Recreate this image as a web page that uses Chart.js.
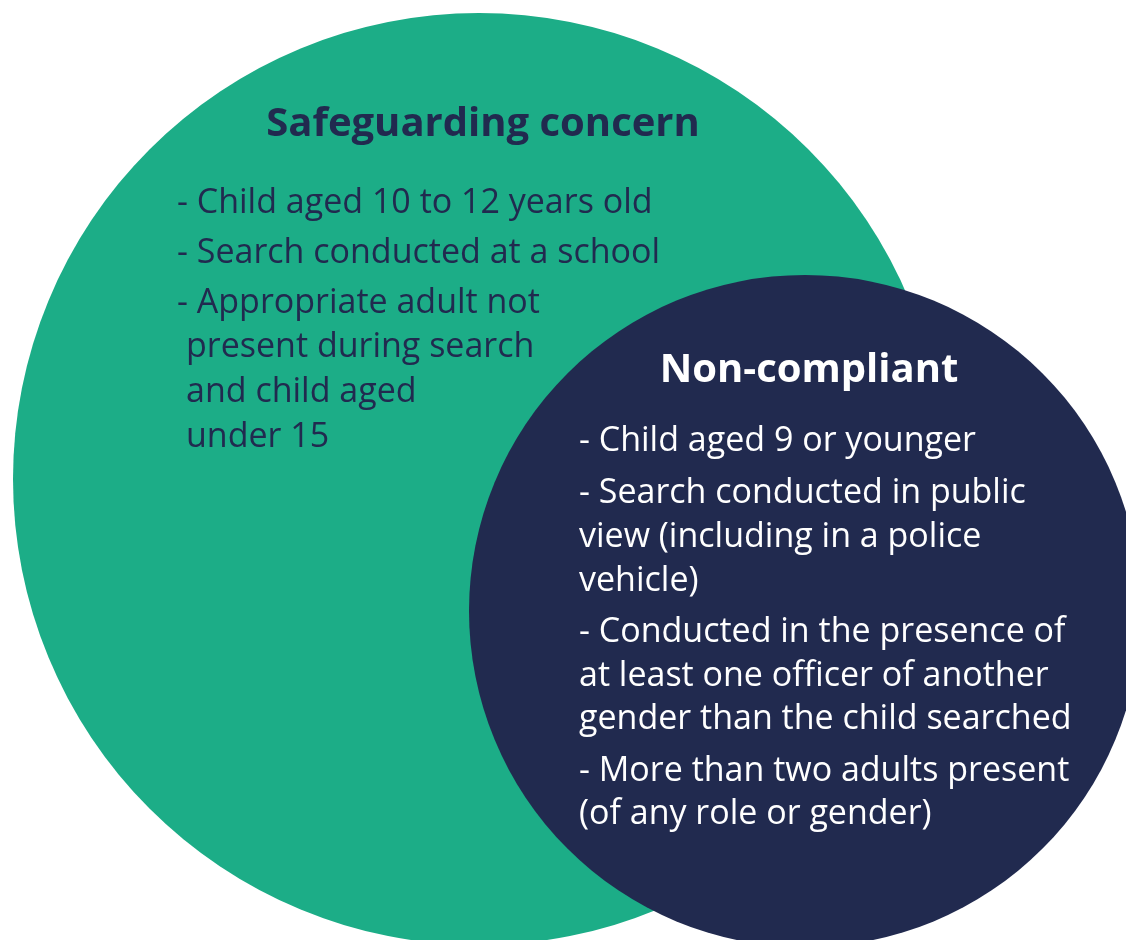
<!DOCTYPE html>
<html>
<head>
<meta charset="utf-8">
<script src="https://cdn.jsdelivr.net/npm/chart.js@4.4.1/dist/chart.umd.min.js"></script>
<style>
  html, body { margin: 0; padding: 0; background: #ffffff; }
  #wrap { width: 1126px; height: 940px; position: relative; }
</style>
</head>
<body>
<div id="wrap"><canvas id="venn"></canvas></div>
<script>
// circles of the diagram (units = plot units, 0..1126 x 0..940)
var groups = ['Safeguarding concern', 'Non-compliant'];
var circleX = [479, 805];
var circleY = [479, 611];
var circleR = [466, 336];
var circleColors = ['#1cad87', '#212a4f'];
var textColors = ['#212a4f', '#ffffff'];

// text inside each circle
var safeguardingItems = [
  '- Child aged 10 to 12 years old',
  '- Search conducted at a school',
  '- Appropriate adult not',
  ' present during search',
  ' and child aged',
  ' under 15'
];
var nonCompliantItems = [
  '- Child aged 9 or younger',
  '- Search conducted in public',
  'view (including in a police',
  'vehicle)',
  '- Conducted in the presence of',
  'at least one officer of another',
  'gender than the child searched',
  '- More than two adults present',
  '(of any role or gender)'
];

var FONT = '"Open Sans", Lato, sans-serif';

// radius in pixels, worked out through the x scale
function radiusPx(ctx, i) {
  var sx = ctx.chart.scales.x;
  if (!sx) return 0;
  return sx.getPixelForValue(circleX[i] + circleR[i]) - sx.getPixelForValue(circleX[i]);
}

var vennText = {
  id: 'vennText',
  afterDatasetsDraw: function(chart) {
    var c = chart.ctx;
    var sx = chart.scales.x, sy = chart.scales.y;
    c.save();
    c.textBaseline = 'middle';

    // left circle
    var cx = sx.getPixelForValue(circleX[0]);
    var cy = sy.getPixelForValue(circleY[0]);
    c.fillStyle = textColors[0];
    c.textAlign = 'center';
    c.font = 'bold 40px ' + FONT;
    c.fillText(groups[0], cx + 4, cy - 354);
    c.textAlign = 'left';
    c.font = '34px ' + FONT;
    var ys = [203, 253, 303, 347, 392, 437];
    for (var i = 0; i < safeguardingItems.length; i++) {
      var t = safeguardingItems[i];
      var x = 177;
      if (t.charAt(0) === ' ') { t = t.slice(1); x = 186; }
      c.fillText(t, x, cy - 479 + ys[i]);
    }

    // right circle
    cx = sx.getPixelForValue(circleX[1]);
    cy = sy.getPixelForValue(circleY[1]);
    c.fillStyle = textColors[1];
    c.textAlign = 'center';
    c.font = 'bold 40px ' + FONT;
    c.fillText(groups[1], cx + 4, cy - 240);
    c.textAlign = 'left';
    c.font = '34px ' + FONT;
    var ys2 = [441, 493, 537, 581, 632, 676, 719, 771, 814];
    for (var j = 0; j < nonCompliantItems.length; j++) {
      c.fillText(nonCompliantItems[j], cx - 226, cy - 611 + ys2[j]);
    }
    c.restore();
  }
};

new Chart(document.getElementById('venn'), {
  type: 'scatter',
  data: {
    datasets: [
      {
        label: groups[1],
        order: 0,
        data: [{ x: circleX[1], y: circleY[1] }],
        backgroundColor: circleColors[1],
        borderWidth: 0,
        pointRadius: function(ctx) { return radiusPx(ctx, 1); },
        pointHoverRadius: function(ctx) { return radiusPx(ctx, 1); }
      },
      {
        label: groups[0],
        order: 1,
        data: [{ x: circleX[0], y: circleY[0] }],
        backgroundColor: circleColors[0],
        borderWidth: 0,
        pointRadius: function(ctx) { return radiusPx(ctx, 0); },
        pointHoverRadius: function(ctx) { return radiusPx(ctx, 0); }
      }
    ]
  },
  options: {
    responsive: true,
    maintainAspectRatio: false,
    animation: false,
    events: [],
    layout: { padding: 0 },
    plugins: {
      legend: { display: false },
      tooltip: { enabled: false }
    },
    scales: {
      x: { type: 'linear', min: 0, max: 1126, display: false },
      y: { type: 'linear', min: 0, max: 940, reverse: true, display: false }
    }
  },
  plugins: [vennText]
});
</script>
</body>
</html>
